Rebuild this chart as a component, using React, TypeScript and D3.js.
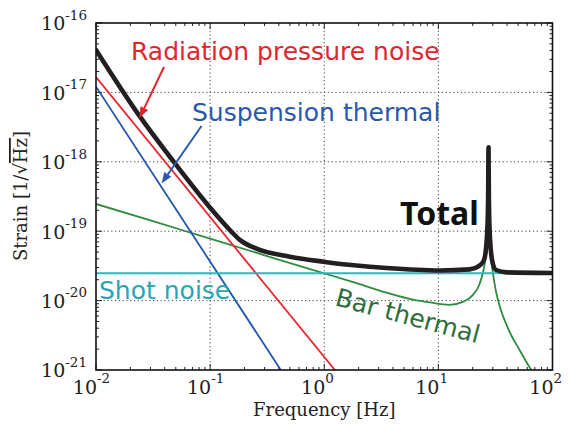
import React from "react";
import * as d3 from "d3";

// ---- data ----
const xTickExps = [-2, -1, 0, 1, 2];
const yTickExps = [-21, -20, -19, -18, -17, -16];

// [frequency Hz, strain 1/sqrt(Hz)]
const radiationPressure: [number, number][] = [
  [0.01, 1.66e-17],
  [1.24, 1.0e-21],
];
const suspensionThermal: [number, number][] = [
  [0.01, 1.21e-17],
  [0.416, 1.0e-21],
];
const shotNoise: [number, number][] = [
  [0.01, 2.47e-20],
  [100, 2.47e-20],
];
const barThermal: [number, number][] = [
  [0.01, 2.47e-19], [0.03, 1.43e-19], [0.1, 7.8e-20], [0.3, 4.5e-20],
  [1, 2.47e-20], [1.8, 1.84e-20], [3.5, 1.3e-20], [6, 1.03e-20],
  [8.4, 9.4e-21], [12.5, 8.7e-21], [16.4, 9.6e-21], [20, 1.2e-20],
  [23, 1.75e-20], [24.5, 2.5e-20], [26, 4.5e-20], [27, 1.3e-19],
  [27.3, 3.2e-19], [27.5, 1.6e-18], [27.7, 3.2e-19], [28, 1.25e-19],
  [29, 4.1e-20], [30.1, 2.45e-20], [32, 1.35e-20], [34.4, 8.4e-21],
  [42.1, 3.55e-21], [51.4, 1.95e-21], [58, 1.37e-21], [65.2, 1.0e-21],
];
const total: [number, number][] = [
  [0.01, 4.1e-17], [0.0243, 4.47e-18], [0.0482, 9.9e-19], [0.0995, 2.2e-19],
  [0.154, 9.8e-20], [0.182, 7.5e-20], [0.255, 5.6e-20], [0.499, 4.3e-20],
  [0.977, 3.64e-20], [3.5, 2.95e-20], [10.3, 2.72e-20], [18.8, 2.82e-20],
  [23, 3.2e-20], [25.1, 3.85e-20], [26, 5.2e-20], [27, 1.34e-19],
  [27.3, 3.2e-19], [27.5, 1.62e-18], [27.7, 3.2e-19], [28, 1.27e-19],
  [29, 4.8e-20], [30, 3.42e-20], [32, 2.76e-20], [40, 2.55e-20], [100, 2.5e-20],
];

// ---- layout ----
const W = 568;
const H = 426;
const L = 96, R = 552.5, T = 23, B = 370;

const SERIF = "'DejaVu Serif', serif";
const SANS = "'DejaVu Sans', sans-serif";
const BOLD = "'Noto Sans', 'Open Sans', sans-serif";

export default function App() {
  const x = d3.scaleLog().domain([1e-2, 1e2]).range([L, R]);
  const y = d3.scaleLog().domain([1e-21, 1e-16]).range([B, T]);

  const line = d3
    .line<[number, number]>()
    .x((d) => x(d[0]))
    .y((d) => y(d[1]))
    .curve(d3.curveMonotoneX);

  const minorX: number[] = [];
  for (let e = -2; e < 2; e++) for (let k = 2; k <= 9; k++) minorX.push(k * Math.pow(10, e));
  const minorY: number[] = [];
  for (let e = -21; e < -16; e++) for (let k = 2; k <= 9; k++) minorY.push(k * Math.pow(10, e));

  const gridColor = "#444";
  const gridDash = "1.2,2.6";

  const arrow = (x1: number, y1: number, x2: number, y2: number, color: string) => {
    const ang = Math.atan2(y2 - y1, x2 - x1);
    const len = 11, wid = 4.2;
    const bx = x2 - len * Math.cos(ang), by = y2 - len * Math.sin(ang);
    const px = -Math.sin(ang) * wid, py = Math.cos(ang) * wid;
    return (
      <g>
        <line x1={x1} y1={y1} x2={bx} y2={by} stroke={color} strokeWidth={2} />
        <path d={`M${x2},${y2} L${bx + px},${by + py} L${bx - px},${by - py} Z`} fill={color} />
      </g>
    );
  };

  return (
    <svg width={W} height={H} style={{ display: "block", position: "absolute", left: 0, top: 0 }}>
      <rect width={W} height={H} fill="#fff" />
      <defs>
        <clipPath id="plotclip">
          <rect x={L} y={T} width={R - L} height={B - T} />
        </clipPath>
      </defs>

      {/* grid */}
      {xTickExps.slice(1, -1).map((e) => (
        <line key={"gx" + e} x1={x(Math.pow(10, e))} x2={x(Math.pow(10, e))} y1={T} y2={B}
          stroke={gridColor} strokeWidth={1} strokeDasharray={gridDash} />
      ))}
      {yTickExps.slice(1, -1).map((e) => (
        <line key={"gy" + e} x1={L} x2={R} y1={y(Math.pow(10, e))} y2={y(Math.pow(10, e))}
          stroke={gridColor} strokeWidth={1} strokeDasharray={gridDash} />
      ))}

      {/* ticks */}
      <g stroke="#222" strokeWidth={1}>
        {xTickExps.map((e) => {
          const xx = x(Math.pow(10, e));
          return (
            <g key={"tx" + e}>
              <line x1={xx} x2={xx} y1={B} y2={B - 6} />
              <line x1={xx} x2={xx} y1={T} y2={T + 6} />
            </g>
          );
        })}
        {minorX.map((v, i) => {
          const xx = x(v);
          return (
            <g key={"mx" + i}>
              <line x1={xx} x2={xx} y1={B} y2={B - 3} />
              <line x1={xx} x2={xx} y1={T} y2={T + 3} />
            </g>
          );
        })}
        {yTickExps.map((e) => {
          const yy = y(Math.pow(10, e));
          return (
            <g key={"ty" + e}>
              <line x1={L} x2={L + 6} y1={yy} y2={yy} />
              <line x1={R} x2={R - 6} y1={yy} y2={yy} />
            </g>
          );
        })}
        {minorY.map((v, i) => {
          const yy = y(v);
          return (
            <g key={"my" + i}>
              <line x1={L} x2={L + 3} y1={yy} y2={yy} />
              <line x1={R} x2={R - 3} y1={yy} y2={yy} />
            </g>
          );
        })}
      </g>

      {/* curves */}
      <g clipPath="url(#plotclip)" fill="none" strokeLinejoin="round">
        <path d={line(barThermal) || ""} stroke="#2e8b3f" strokeWidth={1.8} />
        <path d={line(suspensionThermal) || ""} stroke="#2156a8" strokeWidth={1.8} />
        <path d={line(radiationPressure) || ""} stroke="#e8262d" strokeWidth={1.8} />
        <path d={line(shotNoise) || ""} stroke="#2bb8b8" strokeWidth={2} />
        <path d={line(total) || ""} stroke="#231f20" strokeWidth={4.6} strokeLinecap="round" />
      </g>

      {/* frame */}
      <rect x={L} y={T} width={R - L} height={B - T} fill="none" stroke="#111" strokeWidth={1.6} />

      {/* tick labels */}
      {xTickExps.map((e) => {
        const xx = x(Math.pow(10, e));
        return (
          <g key={"lx" + e} fill="#222" fontFamily={SERIF}>
            <text x={xx + 1} y={393.5} fontSize={19} textAnchor="end">10</text>
            <text x={xx + 1} y={383} fontSize={13.5}>{e}</text>
          </g>
        );
      })}
      {yTickExps.map((e) => {
        const yy = y(Math.pow(10, e));
        return (
          <text key={"ly" + e} x={87} y={yy + 7.3} fontSize={19} textAnchor="end" fill="#222" fontFamily={SERIF}>
            <tspan>10</tspan>
            <tspan dy={-10.5} fontSize={13.5}>{e}</tspan>
          </text>
        );
      })}

      {/* axis titles */}
      <text x={(L + R) / 2} y={416} fontSize={18} textAnchor="middle" fill="#222" fontFamily={SERIF}>
        Frequency [Hz]
      </text>
      <text transform="translate(27,196) rotate(-90)" fontSize={18} textAnchor="middle" fill="#222" fontFamily={SERIF}>
        Strain [1/√<tspan style={{ textDecoration: "overline" }}>Hz</tspan>]
      </text>

      {/* annotations */}
      <text x={131} y={59.5} fontSize={25} fill="#e0262d" fontFamily={SANS}>Radiation pressure noise</text>
      <text x={192} y={120.5} fontSize={25} fill="#2a59ab" fontFamily={SANS}>Suspension thermal</text>
      <text x={99} y={299} fontSize={25} fill="#2ea3b5" fontFamily={SANS}>Shot noise</text>
      <text transform="translate(334,305) rotate(15)" fontSize={25} fill="#2b6e3a" fontFamily={SANS}>Bar thermal</text>
      <text x={400} y={225} fontSize={32} fontWeight="bold" fill="#111" fontFamily={BOLD}>Total</text>

      {arrow(164, 67, 139.5, 118, "#e0262d")}
      {arrow(201.5, 126, 161.5, 183.5, "#2a59ab")}
    </svg>
  );
}
